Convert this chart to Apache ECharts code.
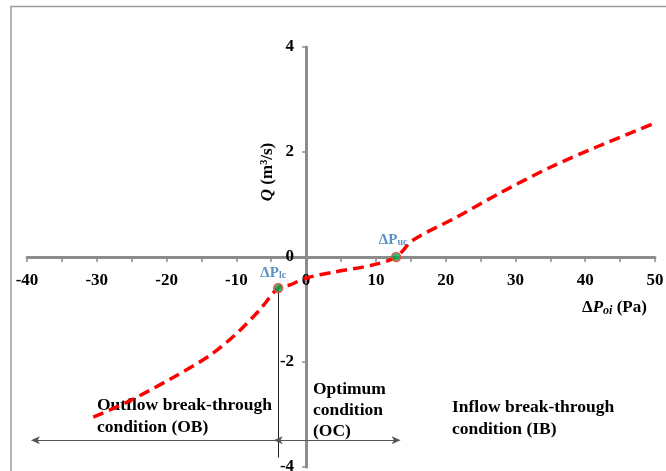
<!DOCTYPE html>
<html>
<head>
<meta charset="utf-8">
<style>
  html, body { margin: 0; padding: 0; background: #fff; }
  #chart { width: 666px; height: 471px; }
</style>
<script src="https://cdn.jsdelivr.net/npm/echarts@6/dist/echarts.min.js"></script>
</head>
<body>
<div id="chart"></div>
<script>
// curve
const dpX = [-30.5, -25.6, -19, -13.75, -9.9, -6.6, -4.0, -2.3, 0, 3.9, 9.6, 12.9, 15.3, 21.6, 27.8, 35, 41.7, 50]
const qY = [-3.05, -2.76, -2.29, -1.87, -1.45, -1.0, -0.59, -0.53, -0.4, -0.29, -0.15, 0, 0.32, 0.76, 1.22, 1.71, 2.1, 2.55]

// the two limit points (lower / upper critical)
const limitX = [-4.0, 12.9]
const limitY = [-0.59, 0]
const limitNames = ['lc', 'uc']

// zone arrows: left end, OB|OC, OC|IB, right end
const zoneEdges = [-38.8, -4.0, 12.9, 50.5]
const zoneArrowY = -3.49
const lineBottom = [-3.82, -4.3]

const serif = '"Liberation Serif", "Times New Roman", serif'
const gray = '#8c8c8c'
const blue = '#2e75b6'
const arrowHead = 'path://M5,0 L10,10 L5,7.5 L0,10 Z'

const W = 666, H = 471
const grid = { left: 27, right: 11, top: 47, bottom: 4 }
const xMin = -40, xMax = 50, yMin = -4, yMax = 4

// the axes cross at the origin; keep the labels next to the lines
const plotW = W - grid.left - grid.right
const plotH = H - grid.top - grid.bottom
const xAxisShift = -plotH * (0 - yMin) / (yMax - yMin)
const yAxisShift = -plotW * (0 - xMin) / (xMax - xMin)

const chart = echarts.init(document.getElementById('chart'))

const tickLabel = {
  color: '#000',
  fontFamily: serif,
  fontWeight: 'bold',
  fontSize: 17
}

const option = {
  animation: false,
  grid: { ...grid, containLabel: false, outerBoundsMode: 'none' },
  xAxis: {
    type: 'value',
    min: xMin,
    max: xMax,
    interval: 5,
    position: 'bottom',
    offset: xAxisShift,
    splitLine: { show: false },
    axisLine: { onZero: false, lineStyle: { color: gray, width: 3 } },
    axisTick: { length: 5, lineStyle: { color: gray, width: 1.5 } },
    axisLabel: {
      ...tickLabel,
      margin: 15,
      formatter: v => (v % 10 === 0 ? String(v) : '')
    }
  },
  yAxis: {
    type: 'value',
    min: yMin,
    max: yMax,
    interval: 2,
    position: 'left',
    offset: yAxisShift,
    splitLine: { show: false },
    axisLine: { onZero: false, lineStyle: { color: gray, width: 3 } },
    axisTick: { length: 4, lineStyle: { color: gray, width: 1.5 } },
    axisLabel: { ...tickLabel, margin: 12 }
  },
  series: [
    {
      type: 'line',
      data: dpX.map((x, i) => [x, qY[i]]),
      smooth: 0.3,
      showSymbol: false,
      lineStyle: { color: '#ff0000', width: 3.5, type: [11, 6] },
      z: 3
    },
    {
      type: 'scatter',
      clip: false,
      data: limitX.map((x, i) => ({
        value: [x, limitY[i]],
        label: { offset: i === 0 ? [-5, 2] : [-3, 0] }
      })),
      symbolSize: 9,
      itemStyle: { color: '#00b050', borderColor: '#ff3b3b', borderWidth: 1.5 },
      label: {
        show: true,
        formatter: p => '{d|Δ}{p|P}{s|' + limitNames[p.dataIndex] + '}',
        position: 'top',
        distance: 4,
        rich: {
          d: { color: blue, fontFamily: serif, fontWeight: 'bold', fontSize: 15 },
          p: { color: blue, fontFamily: serif, fontWeight: 'bold', fontSize: 15 },
          s: { color: blue, fontFamily: serif, fontWeight: 'bold', fontSize: 10, verticalAlign: 'bottom', padding: [6, 0, 0, 0] }
        }
      },
      z: 5,
      markLine: {
        silent: true,
        animation: false,
        symbol: ['none', arrowHead],
        symbolSize: [8, 9],
        label: { show: false },
        lineStyle: { color: '#555', width: 1.2, type: 'solid' },
        data: [
          [{ coord: [limitX[0], limitY[0]], symbol: 'none', lineStyle: { color: '#222', width: 1 } },
           { coord: [limitX[0], lineBottom[0]], symbol: 'none' }],
          [{ coord: [limitX[1], limitY[1]], symbol: 'none', lineStyle: { color: '#222', width: 1 } },
           { coord: [limitX[1], lineBottom[1]], symbol: 'none' }],
          [{ coord: [zoneEdges[1], zoneArrowY] }, { coord: [zoneEdges[0], zoneArrowY] }],
          [{ coord: [zoneEdges[1], zoneArrowY], symbol: arrowHead }, { coord: [zoneEdges[2], zoneArrowY] }],
          [{ coord: [zoneEdges[2], zoneArrowY] }, { coord: [zoneEdges[3], zoneArrowY] }]
        ]
      }
    }
  ],
  graphic: [
    {
      type: 'polyline',
      shape: { points: [[11, 471], [11, 6.5], [666, 6.5]] },
      style: { stroke: '#9a9a9a', lineWidth: 1.5, fill: null },
      silent: true
    },
    {
      type: 'text',
      x: 268,
      y: 172,
      rotation: Math.PI / 2,
      style: {
        text: '{q|Q} (m³/s)',
        align: 'center',
        verticalAlign: 'middle',
        font: 'bold 17px ' + serif,
        fill: '#000',
        rich: { q: { fontStyle: 'italic', fontWeight: 'bold', fontSize: 17, fontFamily: serif } }
      }
    },
    {
      type: 'text',
      x: 582,
      y: 308,
      style: {
        text: 'Δ{p|P}{s|oi} (Pa)',
        verticalAlign: 'middle',
        font: 'bold 17px ' + serif,
        fill: '#000',
        rich: {
          p: { fontStyle: 'italic', fontWeight: 'bold', fontSize: 17, fontFamily: serif },
          s: { fontStyle: 'italic', fontWeight: 'bold', fontSize: 12, fontFamily: serif, verticalAlign: 'bottom', padding: [6, 0, 0, 0] }
        }
      }
    },
    {
      type: 'text',
      x: 97,
      y: 394,
      style: {
        text: 'Outflow break-through\ncondition (OB)',
        font: 'bold 17.5px ' + serif,
        lineHeight: 22,
        fill: '#000'
      }
    },
    {
      type: 'text',
      x: 313,
      y: 379,
      style: {
        text: 'Optimum\ncondition\n(OC)',
        font: 'bold 17.5px ' + serif,
        lineHeight: 21,
        fill: '#000'
      }
    },
    {
      type: 'text',
      x: 452,
      y: 396,
      style: {
        text: 'Inflow break-through\ncondition (IB)',
        font: 'bold 17.5px ' + serif,
        lineHeight: 22,
        fill: '#000'
      }
    }
  ]
}

chart.setOption(option)
</script>
</body>
</html>
